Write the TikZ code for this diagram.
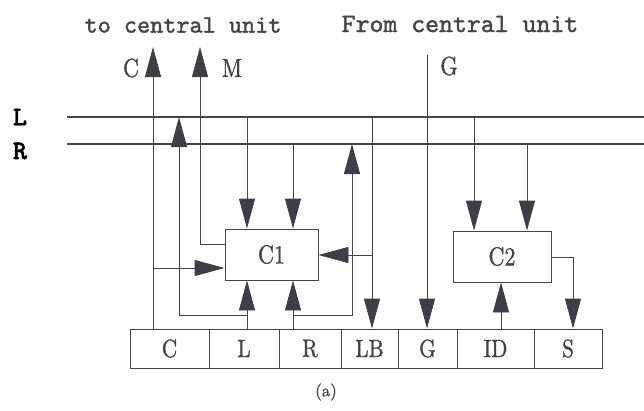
\documentclass[tikz,border=0pt]{standalone}
\usepackage{fontspec}
\usetikzlibrary{arrows.meta,calc}
\newfontfamily\ttheavy{lmmono10-regular.otf}[FakeBold=1.5]
\newfontfamily\rmheavy{lmroman10-regular.otf}[FakeBold=1.2]
\newfontfamily\rmnarrow{lmroman10-regular.otf}[FakeBold=1.2,FakeStretch=0.85]
\newfontfamily\ttbold{lmmonolt10-bold.otf}[FakeBold=1.5]
\definecolor{ink}{HTML}{454545}
\definecolor{headc}{HTML}{3E3E46}
\begin{document}
\begin{tikzpicture}[x=1pt,y=-1pt,
  wire/.style={draw=ink,line width=0.9pt},
  bus/.style={draw=ink,line width=1.1pt},
  arr/.style={wire,-{Triangle[length=30pt,width=16pt,fill=headc,color=headc]}},
  field/.style={draw=ink,line width=0.9pt,minimum height=39pt,inner sep=0pt,text=ink,font=\rmnarrow\fontsize{25}{25}\selectfont},
  unit/.style={draw=ink,line width=0.9pt,minimum height=51pt,inner sep=0pt,text=ink,font=\rmnarrow\fontsize{26}{26}\selectfont},
  lbl/.style={text=ink,inner sep=0pt,font=\rmnarrow\fontsize{26}{26}\selectfont},
  buslbl/.style={text=black,inner sep=0pt,font=\ttbold\fontsize{27}{27}\selectfont}]
\useasboundingbox (0,0) rectangle (644,410);
% titles
\node[text=ink,inner sep=0pt,font=\ttheavy\fontsize{25}{25}\selectfont] (tc) at (183,25) {to central unit};
\node[text=ink,inner sep=0pt,font=\ttheavy\fontsize{26.5}{26.5}\selectfont] (fc) at (460,24) {From central unit};
% bus labels and bus lines
\node[buslbl] (Llbl) at (20,117) {L};
\node[buslbl] (Rlbl) at (20,151) {R};
\coordinate (Lw) at (67,117); \coordinate (Le) at (644,117);
\coordinate (Rw) at (67,144); \coordinate (Re) at (644,144);
\draw[bus] (Lw) -- (Le);
\draw[bus] (Rw) -- (Re);
% bottom register
\node[field,minimum width=79pt] (fC)  at (169.5,348.5) {C};
\node[field,minimum width=70pt] (fL)  at (244,348.5) {L};
\node[field,minimum width=62pt] (fR)  at (310,348.5) {R};
\node[field,minimum width=57pt] (fLB) at (369.5,348.5) {LB};
\node[field,minimum width=59pt] (fG)  at (427.5,348.5) {G};
\node[field,minimum width=77pt] (fID) at (495.5,348.5) {ID};
\node[field,minimum width=68pt] (fS)  at (568,348.5) {S};
% units
\node[unit,minimum width=93pt] (C1) at (271.5,254.5) {C1};
\node[unit,minimum width=98pt] (C2) at (502,256.5) {C2};
% labels of external lines
\node[lbl] (Clbl) at (131,68) {C};
\node[lbl] (Mlbl) at (232,68) {M};
\node[lbl] (Glbl) at (449,66) {G};
\node[text=ink,inner sep=0pt,font=\rmheavy\fontsize{17}{17}\selectfont] (cap) at (326,392) {(a)};
% coordinates
\coordinate (cUp) at (153,47);
\coordinate (mUp) at (200,47);
\coordinate (gTop) at (427,55);
\coordinate (cj) at (153,268);
\coordinate (lj) at (247,315);
\coordinate (lUp) at (179,117);
\coordinate (rj) at (293,315);
\coordinate (rUp) at (352,144);
\coordinate (lbx) at (372,117);
\coordinate (lbj) at (372,255);
\coordinate (sx) at (573,257);
% C register field to central unit, and to C1
\draw[arr] (fC.north -| cUp) -- (cUp);
\draw[arr] (cj) -- (cj -| C1.west);
% M from C1 to central unit
\draw[arr] (C1.west |- 0,244) -| (mUp);
% L field
\draw[arr] (fL.north -| lj) -- (C1.south -| lj);
\draw[arr] (lj) -| (lUp);
% R field
\draw[arr] (fR.north -| rj) -- (C1.south -| rj);
\draw[arr] (rj) -| (rUp);
% buses into C1
\draw[arr] (Lw -| lj) -- (C1.north -| lj);
\draw[arr] (Rw -| rj) -- (C1.north -| rj);
% LB
\draw[arr] (lbx) -- (fLB.north -| lbx);
\draw[arr] (lbj) -- (C1.east |- lbj);
% G
\draw[arr] (gTop) -- (fG.north -| gTop);
% buses into C2
\draw[arr] (Lw -| 474,0) -- (C2.north -| 474,0);
\draw[arr] (Rw -| 527,0) -- (C2.north -| 527,0);
% ID to C2
\draw[arr] (fID.north -| 501,0) -- (C2.south -| 501,0);
% C2 to S
\draw[arr] (C2.east |- sx) -| (fS.north -| sx);
\end{tikzpicture}
\end{document}
